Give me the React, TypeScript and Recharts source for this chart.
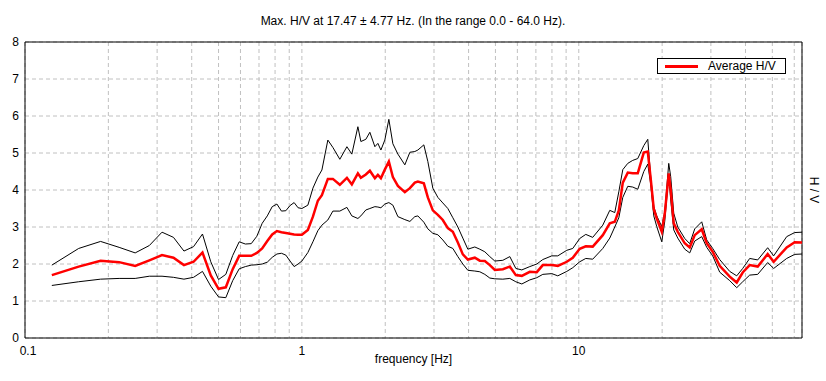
import {
  LineChart,
  Line,
  XAxis,
  YAxis,
  CartesianGrid,
  ReferenceArea,
} from 'recharts';

const freqs = [
  0.125, 0.15625, 0.1875, 0.21875, 0.25, 0.28125, 0.3125, 0.34375, 0.375, 0.40625,
  0.4375, 0.46875, 0.5, 0.53125, 0.5625, 0.59375, 0.625, 0.65625, 0.6875, 0.71875,
  0.75, 0.78125, 0.8125, 0.84375, 0.875, 0.90625, 0.9375, 0.96875, 1.0,
  1.051, 1.096, 1.142, 1.181, 1.241, 1.294, 1.371, 1.454, 1.515, 1.593,
  1.633, 1.702, 1.76, 1.835, 1.881, 1.929, 1.993, 2.061, 2.131, 2.222,
  2.354, 2.455, 2.558, 2.623, 2.757, 2.85, 2.971, 3.098, 3.228, 3.366,
  3.509, 3.658, 3.813, 3.975, 4.212, 4.391, 4.578, 4.772, 4.975, 5.317,
  5.636, 5.924, 6.227, 6.655, 7.053, 7.414, 7.989, 8.398, 9.051, 9.513,
  10.08, 10.6, 11.23, 12.21, 12.94, 13.49, 13.95, 14.42, 15.03, 15.66,
  16.33, 17.17, 17.75, 18.19, 18.66, 19.13, 19.94, 20.44, 21.13, 21.48,
  22.03, 22.78, 24.14, 25.16, 26.23, 27.8, 28.98, 30.46, 32.28, 35.09,
  37.19, 39.09, 41.43, 44.28, 48.11, 50.57, 56.36, 60.22, 64,
];

const upperHV = [
  1.97, 2.42, 2.61, 2.45, 2.3, 2.5, 2.86, 2.72, 2.35, 2.47,
  2.81, 2.06, 1.58, 1.72, 2.23, 2.6, 2.54, 2.55, 2.75, 3.1,
  3.3, 3.55, 3.62, 3.43, 3.44, 3.58, 3.66, 3.52, 3.5,
  3.59, 4.05, 4.35, 4.54, 5.35, 5.15, 4.83, 5.17, 4.97, 5.71,
  5.31, 5.37, 5.56, 5.17, 5.26, 5.08, 5.35, 5.91, 5.25, 4.97,
  4.68, 5.02, 5.04, 5.08, 5.22, 4.77, 4.05, 3.8, 3.65, 3.5,
  3.25, 3.0, 2.7, 2.4, 2.46, 2.4, 2.33, 2.2, 2.08, 2.1,
  2.2, 1.88, 1.84, 1.93, 2.0, 2.12, 2.22, 2.22, 2.37, 2.42,
  2.69, 2.8, 2.72, 3.05, 3.45, 3.39, 3.95, 4.55, 4.72, 4.8,
  4.85, 5.2, 5.37, 4.35, 3.55, 3.3, 3.01, 3.4, 4.72, 4.36,
  3.37, 3.0, 2.69, 2.55, 2.95, 3.14, 2.65, 2.42, 2.12, 1.8,
  1.68, 1.88, 2.15, 2.11, 2.44, 2.22, 2.74, 2.85, 2.86,
];

const avgHV = [
  1.7, 1.93, 2.09, 2.05, 1.95, 2.1, 2.24, 2.17, 1.97, 2.06,
  2.31, 1.69, 1.33, 1.37, 1.86, 2.22, 2.22, 2.22, 2.3, 2.42,
  2.62, 2.8, 2.89, 2.86, 2.84, 2.82, 2.8, 2.79, 2.79,
  2.92, 3.28, 3.71, 3.86, 4.3, 4.3, 4.14, 4.33, 4.15, 4.45,
  4.33, 4.42, 4.52, 4.32, 4.41, 4.32, 4.55, 4.77, 4.35, 4.11,
  3.94, 4.05, 4.2, 4.23, 4.18, 3.8, 3.45, 3.33, 3.19, 2.97,
  2.87, 2.58, 2.26, 2.12, 2.17, 2.09, 2.08, 1.97, 1.84, 1.86,
  1.93, 1.7, 1.68, 1.79, 1.78, 1.97, 1.97, 1.95, 2.06, 2.17,
  2.41, 2.48, 2.47, 2.78, 3.1, 3.14, 3.45, 4.2, 4.47, 4.45,
  4.45, 5.01, 5.04, 4.3, 3.48, 3.23, 2.87, 3.35, 4.45, 4.0,
  3.1, 2.87, 2.56, 2.45, 2.78, 2.94, 2.56, 2.33, 1.95, 1.66,
  1.5, 1.77, 1.97, 1.93, 2.27, 2.06, 2.45, 2.59, 2.58,
];

const lowerHV = [
  1.42, 1.52, 1.59, 1.61, 1.61, 1.67, 1.67, 1.64, 1.59, 1.64,
  1.8, 1.4, 1.11, 1.09, 1.55, 1.87, 1.93, 1.97, 1.98, 2.0,
  2.05, 2.18, 2.27, 2.29, 2.24, 2.08, 1.93, 2.0, 2.08,
  2.31, 2.6, 2.9, 3.05, 3.19, 3.43, 3.43, 3.53, 3.3, 3.23,
  3.3, 3.46, 3.5, 3.55, 3.54, 3.52, 3.62, 3.66, 3.59, 3.28,
  3.2, 3.15, 3.28, 3.3, 3.13, 2.95, 2.83, 2.79, 2.65, 2.48,
  2.42, 2.2, 2.0, 1.83, 1.81, 1.79, 1.72, 1.62, 1.6, 1.59,
  1.61, 1.52, 1.46, 1.57, 1.63, 1.72, 1.74, 1.68, 1.8, 1.9,
  2.06, 2.15, 2.13, 2.42, 2.7, 3.0, 3.25, 3.8, 4.1, 4.08,
  4.02, 4.5, 4.7, 4.15, 3.3, 3.01, 2.6, 3.15, 4.4, 3.73,
  2.92, 2.7, 2.4, 2.3, 2.62, 2.74, 2.45, 2.22, 1.78, 1.55,
  1.36, 1.52, 1.7, 1.72, 2.04, 1.88, 2.15, 2.26, 2.27,
];

const xTicks = [
  0.1, 0.2, 0.3, 0.4, 0.5, 0.6, 0.7, 0.8, 0.9,
  1, 2, 3, 4, 5, 6, 7, 8, 9,
  10, 20, 30, 40, 50, 60,
];
const xLabels = [0.1, 1, 10];
const yTicks = [0, 1, 2, 3, 4, 5, 6, 7, 8];

const data = freqs.map((f, i) => ({
  f,
  upper: upperHV[i],
  avg: avgHV[i],
  lower: lowerHV[i],
}));

const font = '"Liberation Sans", Arial, sans-serif';

// only decades get a label; the first one sits a bit right so it clears the y "0"
const FreqTick = (props: any) => {
  const { x, y, payload } = props;
  const v = payload.value;
  if (!xLabels.includes(v)) return null;
  return (
    <text
      x={x + (v === 0.1 ? 3 : 0)}
      y={y + 6}
      dy="0.71em"
      textAnchor="middle"
      fill="#000"
      fontSize={12}
      fontFamily={font}
    >
      {String(v)}
    </text>
  );
};

export default function App() {
  return (
    <div
      style={{
        position: 'absolute',
        left: 0,
        top: 0,
        width: 826,
        height: 381,
        background: '#fff',
        fontFamily: font,
      }}
    >
      <div
        style={{
          position: 'absolute',
          top: 14,
          left: 0,
          width: 826,
          textAlign: 'center',
          fontSize: 12,
          lineHeight: '14px',
          color: '#000',
        }}
      >
        Max. H/V at 17.47 ± 4.77 Hz. (In the range 0.0 - 64.0 Hz).
      </div>
      <LineChart
        width={826}
        height={381}
        data={data}
        margin={{ top: 42, right: 0, bottom: 13, left: 0 }}
      >
        <CartesianGrid stroke="#c0c0c0" strokeDasharray="4 3" />
        <XAxis
          dataKey="f"
          type="number"
          scale="log"
          domain={[0.1, 64]}
          ticks={xTicks}
          interval={0}
          allowDataOverflow
          height={30}
          axisLine={false}
          tickLine={false}
          tickSize={0}
          tick={<FreqTick />}
          label={{
            value: 'frequency [Hz]',
            position: 'insideBottom',
            offset: 5,
            fill: '#000',
            fontSize: 12,
            fontFamily: font,
          }}
        />
        <YAxis
          domain={[0, 8]}
          ticks={yTicks}
          interval={0}
          width={25}
          axisLine={false}
          tickLine={false}
          tickSize={0}
          tickMargin={6}
          tick={{ fill: '#000', fontSize: 12, fontFamily: font }}
        />
        <YAxis
          yAxisId="right"
          orientation="right"
          width={24}
          axisLine={false}
          tickLine={false}
          tick={false}
          label={{
            value: 'H / V',
            angle: 90,
            position: 'center',
            fill: '#000',
            fontSize: 12,
            fontFamily: font,
          }}
        />
        <ReferenceArea
          x1={0.1}
          x2={64}
          y1={0}
          y2={8}
          fill="none"
          fillOpacity={0}
          stroke="#000"
          strokeWidth={1}
        />
        <Line
          type="linear"
          dataKey="upper"
          stroke="#000"
          strokeWidth={1}
          dot={false}
          isAnimationActive={false}
        />
        <Line
          type="linear"
          dataKey="lower"
          stroke="#000"
          strokeWidth={1}
          dot={false}
          isAnimationActive={false}
        />
        <Line
          type="linear"
          dataKey="avg"
          stroke="#ff0000"
          strokeWidth={2.5}
          dot={false}
          isAnimationActive={false}
        />
      </LineChart>
      <div
        style={{
          position: 'absolute',
          left: 657,
          top: 58,
          width: 127,
          height: 14,
          border: '1px solid #000',
          background: '#fff',
          display: 'flex',
          alignItems: 'center',
          fontSize: 12,
          color: '#000',
        }}
      >
        <div
          style={{
            marginLeft: 7,
            width: 33,
            height: 3,
            background: '#ff0000',
          }}
        />
        <span style={{ marginLeft: 10 }}>Average H/V</span>
      </div>
    </div>
  );
}
